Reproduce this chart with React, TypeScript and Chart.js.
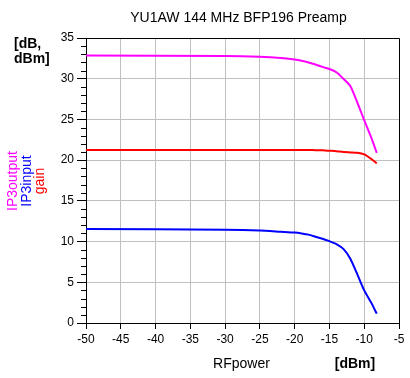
import React, { useEffect, useRef } from "react";
import { Chart, registerables } from "chart.js";

Chart.register(...registerables);

// RF input power [dBm]
const powerIn = [-50, -30, -25, -22, -20, -19, -18, -17, -16, -15, -14, -13, -12, -11, -10, -9, -8.2];
const ip3Output = [32.85, 32.8, 32.7, 32.55, 32.35, 32.2, 32.0, 31.75, 31.45, 31.2, 30.8, 30.0, 29.1, 27.1, 24.9, 22.8, 20.9];
const ip3Input = [11.55, 11.45, 11.35, 11.2, 11.1, 11.0, 10.85, 10.6, 10.35, 10.05, 9.7, 9.1, 7.9, 6.0, 4.0, 2.5, 1.15];
const gainDb = [21.25, 21.25, 21.25, 21.25, 21.25, 21.25, 21.25, 21.22, 21.2, 21.15, 21.1, 21.0, 20.95, 20.9, 20.7, 20.15, 19.6];

const xMin = -50;
const xMax = -5;
const yMin = 0;
const yMax = 35;
const tickStep = 5;

const titleText = "YU1AW 144 MHz BFP196 Preamp";
const yUnitLines = ["[dB,", "dBm]"];
const seriesNames = ["IP3output", "IP3input", "gain"];
const seriesColors = ["#ff00ff", "#0000ff", "#ff0000"];
const xName = "RFpower";
const xUnit = "[dBm]";

const FONT = "'Liberation Sans', Arial, sans-serif";

const decor = {
  id: "decor",
  afterDraw(chart: any) {
    const { ctx, chartArea: a, scales } = chart;
    const y = scales.y;
    ctx.save();
    ctx.strokeStyle = "#000";
    ctx.lineWidth = 1;
    // minor ticks on y axis
    for (let v = yMin; v <= yMax; v += 1) {
      if (v % tickStep === 0) continue;
      const py = Math.round(y.getPixelForValue(v)) + 0.5;
      ctx.beginPath();
      ctx.moveTo(a.left - 5, py);
      ctx.lineTo(a.left, py);
      ctx.stroke();
    }
    // frame top and right
    ctx.beginPath();
    ctx.moveTo(a.left, Math.round(a.top) + 0.5);
    ctx.lineTo(Math.round(a.right) + 0.5, Math.round(a.top) + 0.5);
    ctx.lineTo(Math.round(a.right) + 0.5, a.bottom);
    ctx.stroke();

    ctx.fillStyle = "#000";
    // title
    ctx.font = `14px ${FONT}`;
    ctx.textAlign = "center";
    ctx.textBaseline = "middle";
    ctx.fillText(titleText, (a.left + a.right) / 2 - 4, a.top - 20);

    // y unit
    ctx.font = `bold 14px ${FONT}`;
    ctx.textAlign = "left";
    ctx.fillText(yUnitLines[0], 14, a.top + 6);
    ctx.fillText(yUnitLines[1], 14, a.top + 21);

    // rotated series names
    const midY = 181;
    const xs = [13, 27, 40];
    ctx.font = `14px ${FONT}`;
    ctx.textAlign = "center";
    for (let i = 0; i < seriesNames.length; i++) {
      ctx.save();
      ctx.translate(xs[i], midY);
      ctx.rotate(-Math.PI / 2);
      ctx.fillStyle = seriesColors[i];
      ctx.fillText(seriesNames[i], 0, 0);
      ctx.restore();
    }

    // x labels
    ctx.fillStyle = "#000";
    ctx.font = `14px ${FONT}`;
    ctx.textAlign = "center";
    ctx.fillText(xName, (a.left + a.right) / 2 - 1, a.bottom + 41);
    ctx.font = `bold 14px ${FONT}`;
    ctx.fillText(xUnit, 355, a.bottom + 41);
    ctx.restore();
  },
};

export default function App() {
  const ref = useRef<HTMLCanvasElement>(null);
  useEffect(() => {
    if (!ref.current) return;
    const mk = (vals: number[]) => powerIn.map((p, i) => ({ x: p, y: vals[i] }));
    const chart = new Chart(ref.current, {
      type: "line",
      data: {
        datasets: [
          { label: seriesNames[0], data: mk(ip3Output), borderColor: seriesColors[0], borderWidth: 2, pointRadius: 0, tension: 0.2 },
          { label: seriesNames[1], data: mk(ip3Input), borderColor: seriesColors[1], borderWidth: 2, pointRadius: 0, tension: 0.2 },
          { label: seriesNames[2], data: mk(gainDb), borderColor: seriesColors[2], borderWidth: 2, pointRadius: 0, tension: 0.2 },
        ],
      },
      options: {
        animation: false,
        responsive: true,
        maintainAspectRatio: false,
        layout: { padding: { left: 0, top: 38, right: 11, bottom: 0 } },
        plugins: { legend: { display: false }, tooltip: { enabled: false }, title: { display: false } },
        scales: {
          x: {
            type: "linear",
            min: xMin,
            max: xMax,
            afterFit: (s: any) => { s.height = 55; },
            ticks: { stepSize: tickStep, color: "#000", font: { family: FONT, size: 12 }, padding: 3, maxRotation: 0 },
            grid: { color: "#c0c0c0", tickColor: "#000", tickLength: 6, lineWidth: 1 },
            border: { color: "#000", width: 1 },
          },
          y: {
            type: "linear",
            min: yMin,
            max: yMax,
            afterFit: (s: any) => { s.width = 86; },
            ticks: { stepSize: tickStep, color: "#000", font: { family: FONT, size: 12 }, padding: 3 },
            grid: { color: "#c0c0c0", tickColor: "#000", tickLength: 9, lineWidth: 1 },
            border: { color: "#000", width: 1 },
          },
        },
      },
      plugins: [decor],
    } as any);
    return () => chart.destroy();
  }, []);
  return (
    <div style={{ position: "absolute", left: 0, top: 0, width: 410, height: 378, background: "#fff" }}>
      <canvas ref={ref} />
    </div>
  );
}
